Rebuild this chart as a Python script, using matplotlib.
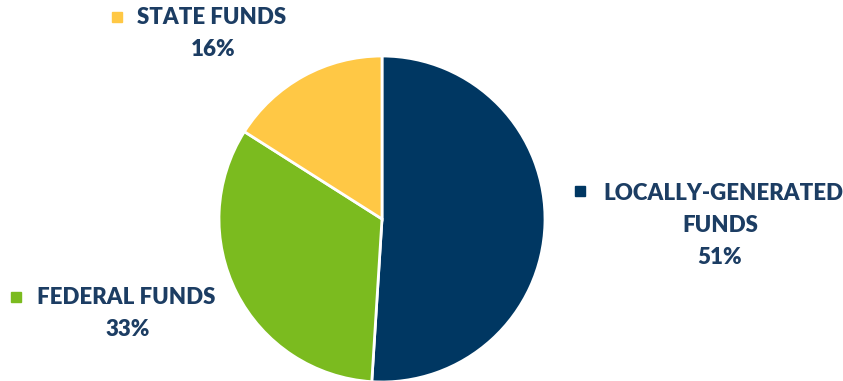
import matplotlib.pyplot as plt

labels = ['LOCALLY-GENERATED\nFUNDS', 'FEDERAL FUNDS', 'STATE FUNDS']
shares = [51, 33, 16]
colors = ['#003762', '#7bbb1f', '#ffc845']
text_color = '#1c3d63'

W, H = 843, 381
fig = plt.figure(figsize=(W / 100, H / 100), dpi=100)
ax = fig.add_axes([0, 0, 1, 1])

ax.pie(shares, colors=colors, startangle=90, counterclock=False,
       center=(382, H - 219), radius=163, frame=True,
       wedgeprops=dict(edgecolor='white', linewidth=2))

ax.set_xlim(0, W)
ax.set_ylim(0, H)
ax.set_aspect('equal')
ax.axis('off')

# label blocks: (marker x, marker y, text x, pct centre x, first line y)
spots = [(580, 191, 603, 720, 194),
         (16, 297, 37, 128, 298),
         (117, 17, 137, 213, 17)]
line_h = 32
fs = 16
for lab, pct, col, (mx, my, tx, cx, ty) in zip(labels, shares, colors, spots):
    lines = lab.split('\n')
    ax.plot(mx, H - my, marker='s', markersize=6.5, color=col, linestyle='none')
    ax.text(tx, H - ty, lines[0], ha='left', va='center', fontsize=fs,
            fontweight='heavy', color=text_color, family='Lato')
    y = ty
    for extra in lines[1:]:
        y += line_h
        ax.text(cx, H - y, extra, ha='center', va='center', fontsize=fs,
                fontweight='heavy', color=text_color, family='Lato')
    y += line_h
    ax.text(cx, H - y, f'{pct}%', ha='center', va='center', fontsize=fs,
            fontweight='heavy', color=text_color, family='Lato')

fig.savefig('out.png', dpi=100)
